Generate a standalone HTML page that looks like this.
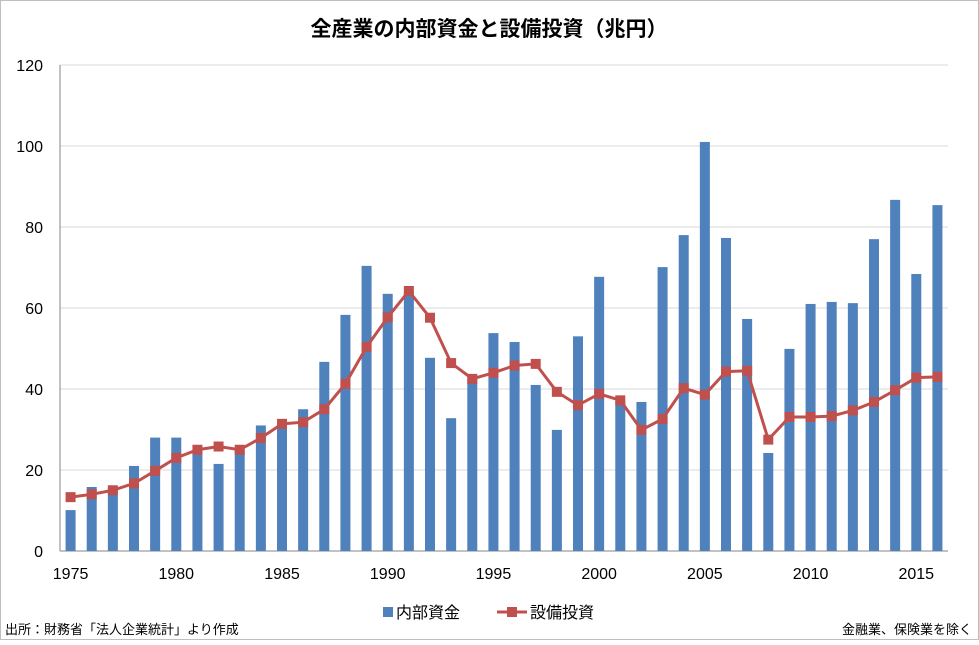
<!DOCTYPE html>
<html><head><meta charset="utf-8">
<style>
html,body{margin:0;padding:0;background:#fff;}
body{width:979px;height:640px;overflow:hidden;font-family:"Liberation Sans","Noto Sans CJK JP",sans-serif;}
</style></head>
<body>
<svg id="chart" width="979" height="640" xmlns="http://www.w3.org/2000/svg" font-family="Liberation Sans, Noto Sans CJK JP, sans-serif">
<rect x="0.5" y="0.5" width="978" height="639" fill="#fff" stroke="#bfbfbf"/>
<text x="489" y="36" text-anchor="middle" font-size="21" font-weight="bold" fill="#000">全産業の内部資金と設備投資（兆円）</text>
<g id="grid"></g><g id="bars"></g><g id="line"></g><g id="axes"></g>
<g>
<rect x="383" y="607" width="10" height="10" fill="#4f81bd"/>
<text x="396" y="618" font-size="16">内部資金</text>
<line x1="497" y1="612" x2="527" y2="612" stroke="#c0504d" stroke-width="3"/>
<rect x="507" y="607" width="10" height="10" fill="#c0504d"/>
<text x="530" y="618" font-size="16">設備投資</text>
</g>
<text x="5" y="634" font-size="13">出所：財務省「法人企業統計」より作成</text>
<text x="972" y="634" font-size="13" text-anchor="end">金融業、保険業を除く</text>
</svg>
<script>
const years=[1975,1976,1977,1978,1979,1980,1981,1982,1983,1984,1985,1986,1987,1988,1989,1990,1991,1992,1993,1994,1995,1996,1997,1998,1999,2000,2001,2002,2003,2004,2005,2006,2007,2008,2009,2010,2011,2012,2013,2014,2015,2016];
const internalFunds=[10.1,15.8,15.5,21,28,28,25,21.5,25,31,31.5,35,46.7,58.3,70.4,63.5,64,47.7,32.8,42.7,53.8,51.6,41,29.9,53,67.7,37,36.8,70.1,78,101,77.3,57.3,24.2,49.9,61,61.5,61.2,77,86.7,68.4,85.4];
const capex=[13.3,14,15,16.7,19.8,23,25,25.8,25,27.9,31.4,31.8,35,41.3,50.4,57.7,64.2,57.6,46.4,42.5,44,45.8,46.2,39.3,36,38.8,37.2,29.9,32.6,40.2,38.6,44.3,44.5,27.5,33.1,33.1,33.3,34.7,36.8,39.7,42.8,43];
const yTicks=[0,20,40,60,80,100,120];
const xLabels=[1975,1980,1985,1990,1995,2000,2005,2010,2015];
const NS='http://www.w3.org/2000/svg';
const L=60,R=948,T=65,B=551,yMax=120;
const step=(R-L)/years.length;
const xs=i=>L+step*(i+0.5);
const ys=v=>B-(v/yMax)*(B-T);
function mk(tag,attrs,parent){const e=document.createElementNS(NS,tag);for(const k in attrs)e.setAttribute(k,attrs[k]);parent.appendChild(e);return e;}
const grid=document.getElementById('grid'),bars=document.getElementById('bars'),line=document.getElementById('line'),axes=document.getElementById('axes');
yTicks.forEach(t=>{
 const g=mk('line',{x1:L,x2:R,y1:ys(t),y2:ys(t),stroke:t===0?'#868686':'#d9d9d9','stroke-width':1},grid);
 
 
 const tx=mk('text',{x:L-17,y:ys(t)+6,'text-anchor':'end','font-size':16,fill:'#000'},axes);
 tx.textContent=t;
 
 
});
mk('line',{x1:L,x2:L,y1:T,y2:B,stroke:'#868686'},axes);
xLabels.forEach(y=>{
 const i=years.indexOf(y);
 const tx=mk('text',{x:xs(i),y:B+28,'text-anchor':'middle','font-size':16,fill:'#000'},axes);
 tx.textContent=y;
 
 
});
internalFunds.forEach((v,i)=>{
 const r=mk('rect',{x:xs(i)-5,y:ys(v),width:10,height:B-ys(v),fill:'#4f81bd'},bars);
 
 
});
const pts=capex.map((v,i)=>xs(i)+','+ys(v)).join(' ');
const pl=mk('polyline',{points:pts,fill:'none',stroke:'#c0504d','stroke-width':3},line);


capex.forEach((v,i)=>{
 const m=mk('rect',{x:xs(i)-5,y:ys(v)-5,width:10,height:10,fill:'#c0504d'},line);
 
 
});
</script>
</body></html>
